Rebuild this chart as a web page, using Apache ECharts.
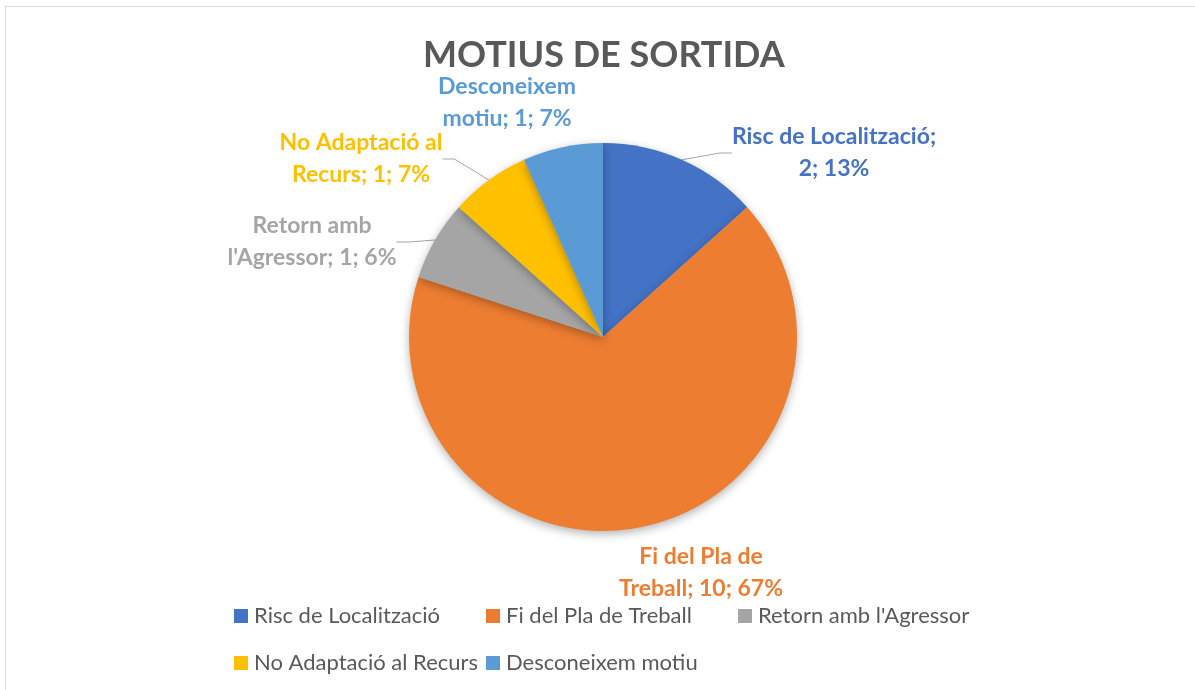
<!DOCTYPE html>
<html>
<head>
<meta charset="utf-8">
<title>MOTIUS DE SORTIDA</title>
<script src="https://cdn.jsdelivr.net/npm/echarts@6/dist/echarts.min.js"></script>
<style>
  html, body { margin: 0; padding: 0; background: #fff; overflow: hidden; }
  .frame {
    position: absolute; left: 5px; top: 6px; width: 1400px; height: 900px;
    border: 1px solid #d9d9d9; box-sizing: border-box;
  }
  #chart { position: absolute; left: 0; top: 0; width: 1195px; height: 690px; }
</style>
</head>
<body>
<div class="frame"></div>
<div id="chart"></div>
<script>
// chart data
const categories = ['Risc de Localització', 'Fi del Pla de Treball', "Retorn amb l'Agressor", 'No Adaptació al Recurs', 'Desconeixem motiu']
const values = [2, 10, 1, 1, 1]
const percents = [13, 67, 6, 7, 7]

const colors = ['#4472C4', '#ED7D31', '#A5A5A5', '#FFC000', '#5B9BD5']
// words on the first line of each data label
const firstLineWords = [3, 4, 2, 3, 1]
// label block centres (px)
const labelPos = [[834, 153], [701, 573], [312, 242], [361, 159], [507, 103]]
const showLeader = [true, false, true, true, false]
// legend slots: [left, top]
const legendSlots = [[234, 605], [486, 605], [738, 605], [234, 652], [486, 652]]

const font = 'Lato, "Open Sans", sans-serif'
const chart = echarts.init(document.getElementById('chart'))

const option = {
  color: colors,
  title: {
    text: 'MOTIUS DE SORTIDA',
    left: 418,
    top: 32,
    textStyle: { fontSize: 36, fontWeight: 'bold', color: '#595959', fontFamily: font }
  },
  legend: categories.map((name, i) => ({
    data: [name],
    left: legendSlots[i][0],
    top: legendSlots[i][1],
    padding: 0,
    icon: 'rect',
    itemWidth: 14,
    itemHeight: 14,
    selectedMode: false,
    textStyle: { fontSize: 22, color: '#595959', fontFamily: font, padding: [0, 0, 0, 1] }
  })),
  series: [
    {
      type: 'pie',
      center: [603, 337],
      radius: 194,
      startAngle: 90,
      clockwise: true,
      avoidLabelOverlap: false,
      animation: false,
      itemStyle: {
        borderWidth: 0,
        shadowBlur: 10,
        shadowOffsetY: 3,
        shadowColor: 'rgba(0, 0, 0, 0.3)'
      },
      label: {
        show: true,
        position: 'outside',
        fontSize: 23,
        fontWeight: 'bold',
        fontFamily: font,
        lineHeight: 32,
        align: 'center',
        formatter: function (p) {
          const words = (p.name + '; ' + p.value + '; ' + percents[p.dataIndex] + '%').split(' ')
          const n = firstLineWords[p.dataIndex]
          return words.slice(0, n).join(' ') + '\n' + words.slice(n).join(' ')
        }
      },
      labelLine: {
        show: true,
        length: 14,
        length2: 12,
        lineStyle: { color: '#a6a6a6', width: 1 }
      },
      labelLayout: function (params) {
        const p = labelPos[params.dataIndex]
        return { x: p[0], y: p[1], align: 'center', verticalAlign: 'middle' }
      },
      data: categories.map((name, i) => ({
        name: name,
        value: values[i],
        label: { color: colors[i] },
        labelLine: { show: showLeader[i] }
      }))
    }
  ]
}

chart.setOption(option)
</script>
</body>
</html>
